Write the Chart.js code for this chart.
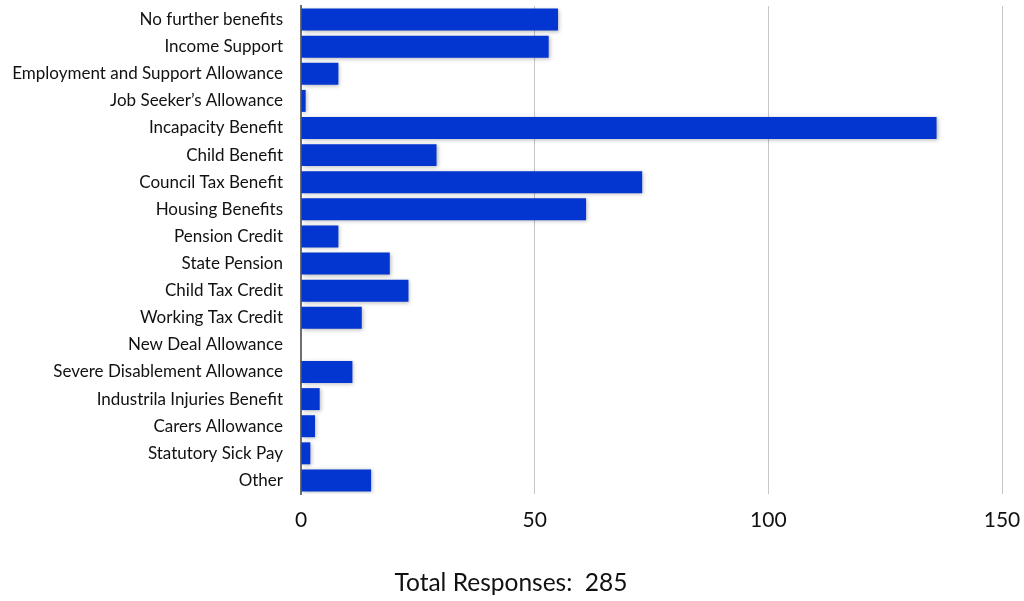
<!DOCTYPE html>
<html>
<head>
<meta charset="utf-8">
<title>Benefits received</title>
<script src="https://cdn.jsdelivr.net/npm/chart.js@4/dist/chart.umd.min.js"></script>
<style>
  html, body { margin: 0; padding: 0; background: #fff; }
  #wrap { width: 1024px; height: 601px; position: relative; }
</style>
</head>
<body>
<div id="wrap"><canvas id="benefitsChart"></canvas></div>
<script>
const benefits = [
  'No further benefits', 'Income Support', 'Employment and Support Allowance',
  'Job Seeker\u2019s Allowance', 'Incapacity Benefit', 'Child Benefit',
  'Council Tax Benefit', 'Housing Benefits', 'Pension Credit', 'State Pension',
  'Child Tax Credit', 'Working Tax Credit', 'New Deal Allowance',
  'Severe Disablement Allowance', 'Industrila Injuries Benefit',
  'Carers Allowance', 'Statutory Sick Pay', 'Other'
];
const responses = [55, 53, 8, 1, 136, 29, 73, 61, 8, 19, 23, 13, 0, 11, 4, 3, 2, 15];
const xTicks = [0, 50, 100, 150];
const totalResponses = 285;

const fontFamily = 'Lato, "Open Sans", sans-serif';

// soft drop shadow under the bars
const barShadow = {
  id: 'barShadow',
  beforeDatasetsDraw(chart) {
    const ctx = chart.ctx;
    ctx.save();
    ctx.shadowColor = 'rgba(0, 0, 0, 0.28)';
    ctx.shadowBlur = 4;
    ctx.shadowOffsetX = 1;
    ctx.shadowOffsetY = 1;
  },
  afterDatasetsDraw(chart) {
    chart.ctx.restore();
  }
};

// caption under the axis, centred on the whole canvas
const caption = {
  id: 'caption',
  afterDraw(chart) {
    const ctx = chart.ctx;
    ctx.save();
    ctx.font = `24.5px ${fontFamily}`;
    ctx.fillStyle = '#111';
    ctx.textAlign = 'center';
    ctx.textBaseline = 'middle';
    ctx.fillText('Total Responses:  ' + totalResponses, chart.width / 2 - 1, 583);
    ctx.restore();
  }
};

new Chart(document.getElementById('benefitsChart'), {
  type: 'bar',
  data: {
    labels: benefits,
    datasets: [{
      data: responses,
      backgroundColor: '#0335d0',
      borderWidth: 0,
      barPercentage: 0.81,
      categoryPercentage: 1
    }]
  },
  options: {
    indexAxis: 'y',
    responsive: true,
    maintainAspectRatio: false,
    animation: false,
    layout: { padding: { top: 6, right: 22, bottom: 34, left: 0 } },
    plugins: {
      legend: { display: false },
      tooltip: { enabled: false }
    },
    scales: {
      x: {
        min: 0,
        max: 150,
        afterBuildTicks: (scale) => { scale.ticks = xTicks.map(v => ({ value: v })); },
        afterFit: (scale) => {
          scale.height = 73;
          scale.paddingLeft = 0;
          scale.paddingRight = 0;
        },
        grid: {
          drawTicks: false,
          color: (c) => c.tick && c.tick.value === 0 ? 'rgba(0,0,0,0)' : '#c6c6c6',
          lineWidth: 1
        },
        border: { display: false },
        ticks: {
          padding: 14,
          maxRotation: 0,
          color: '#111',
          font: { family: fontFamily, size: 21 }
        }
      },
      y: {
        afterFit: (scale) => {
          scale.width = 301;
          scale.paddingTop = 0;
          scale.paddingBottom = 0;
        },
        grid: { display: false, drawTicks: false },
        border: { display: true, color: '#707070', width: 2 },
        ticks: {
          padding: 18,
          autoSkip: false,
          color: '#111',
          font: { family: fontFamily, size: 17 }
        }
      }
    }
  },
  plugins: [barShadow, caption]
});
</script>
</body>
</html>
